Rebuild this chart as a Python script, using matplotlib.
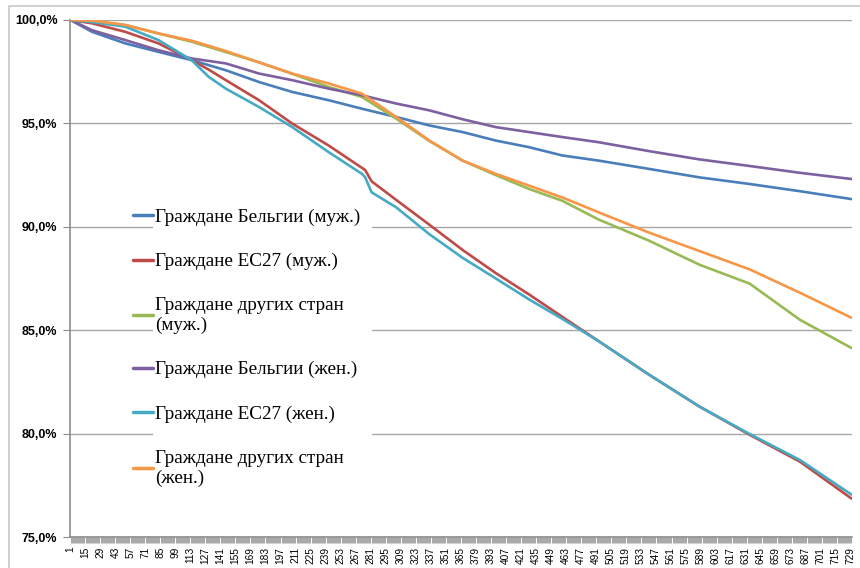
import numpy as np
import matplotlib
matplotlib.use("Agg")
import matplotlib.pyplot as plt
from matplotlib.patches import Rectangle

# days on the category axis where values were read
days = [1, 21, 52, 83, 114, 146, 177, 208, 242, 273, 305, 336,
        367, 398, 429, 460, 494, 541, 588, 635, 682, 730]

be_m = [100.0, 99.43, 98.87, 98.46, 98.06, 97.57, 97.0, 96.52, 96.12, 95.71, 95.31, 94.9,
        94.58, 94.17, 93.85, 93.45, 93.2, 92.8, 92.39, 92.07, 91.72, 91.34]
be_f = [100.0, 99.51, 99.03, 98.54, 98.14, 97.9, 97.41, 97.09, 96.68, 96.36, 95.96, 95.63,
        95.2, 94.82, 94.58, 94.34, 94.09, 93.66, 93.26, 92.94, 92.61, 92.31]
ot_m = [100.0, 99.95, 99.76, 99.35, 98.95, 98.45, 97.95, 97.4, 96.76, 96.28, 95.23, 94.15,
        93.2, 92.5, 91.83, 91.26, 90.35, 89.33, 88.17, 87.25, 85.5, 84.14]
ot_f = [100.0, 99.97, 99.76, 99.35, 99.0, 98.5, 97.95, 97.41, 96.93, 96.44, 95.31, 94.17,
        93.2, 92.56, 91.99, 91.42, 90.7, 89.72, 88.83, 87.94, 86.81, 85.6]

# EU27 series have a small step near day 278
days_eu = [1, 21, 52, 83, 114, 130, 146, 177, 208, 242, 273, 276, 282, 305, 336,
           367, 398, 429, 460, 494, 541, 588, 635, 682, 730]
eu_m = [100.0, 99.84, 99.43, 98.87, 98.06, 97.6, 97.09, 96.12, 94.99, 93.93, 92.85, 92.75, 92.2,
        91.3, 90.1, 88.88, 87.76, 86.73, 85.65, 84.47, 82.85, 81.31, 79.94, 78.64, 76.86]
eu_f = [100.0, 99.9, 99.68, 99.03, 98.06, 97.25, 96.68, 95.79, 94.82, 93.61, 92.56, 92.4, 91.67,
        90.94, 89.64, 88.5, 87.5, 86.49, 85.55, 84.47, 82.85, 81.31, 79.98, 78.72, 77.05]

labels = ["Граждане Бельгии (муж.)", "Граждане ЕС27 (муж.)",
          "Граждане других стран\n(муж.)", "Граждане Бельгии (жен.)",
          "Граждане ЕС27 (жен.)", "Граждане других стран\n(жен.)"]
colors = ["#4A7EBB", "#BE4B48", "#98B954", "#7D60A0", "#46AAC5", "#F79646"]

n_days = 730
xtick_days = list(range(1, n_days, 14))
ytick_vals = [75, 80, 85, 90, 95, 100]
ytick_text = ["75,0%", "80,0%", "85,0%", "90,0%", "95,0%", "100,0%"]

fig = plt.figure(figsize=(8.6, 5.68), dpi=100)
ax = fig.add_axes([70 / 860, 1 - 537 / 568, 782 / 860, 517 / 568])

series = [(days, be_m), (days_eu, eu_m), (days, ot_m),
          (days, be_f), (days_eu, eu_f), (days, ot_f)]
for (x, y), lab, c in zip(series, labels, colors):
    ax.plot(x, y, color=c, lw=1.9, label=lab, zorder=3, solid_capstyle="round")

ax.set_xlim(0.5, n_days + 0.5)
ax.set_ylim(75, 100)
ax.set_yticks(ytick_vals)
ax.set_yticklabels(ytick_text, fontfamily="Liberation Sans", fontweight="bold", fontsize=9)
ax.set_xticks(xtick_days)
ax.set_xticklabels([str(d) for d in xtick_days], rotation=90,
                   fontfamily="Liberation Sans", fontsize=7.3)
ax.set_xticks(np.arange(1, n_days + 1), minor=True)

ax.grid(axis="y", color="#A6A6A6", lw=1.0, zorder=1)
for s in ["top", "right"]:
    ax.spines[s].set_visible(False)
for s in ["left", "bottom"]:
    ax.spines[s].set_color("#8C8C8C")
    ax.spines[s].set_linewidth(1.2)
ax.tick_params(axis="y", length=5, color="#8C8C8C", pad=4)
ax.tick_params(axis="x", which="both", length=4, width=0.6, color="#999999", pad=3)

# white area behind the legend
ax.add_patch(Rectangle(((153 - 70) / 782, (537 - 500) / 517), (372 - 153) / 782, 303 / 517,
                       transform=ax.transAxes, facecolor="white", edgecolor="none", zorder=2))

leg = ax.legend(loc="upper left", bbox_to_anchor=((133 - 70) / 782 - 0.012, (537 - 199) / 517),
                frameon=False, handlelength=1.05, handletextpad=0.1, labelspacing=1.4,
                borderpad=0, prop={"family": "Liberation Serif", "size": 13.8})
for line in leg.get_lines():
    line.set_linewidth(2.5)

# outer chart border
fig.add_artist(Rectangle((9 / 860, -0.1), 1.2, 1.1 - 6.5 / 568, transform=fig.transFigure,
                         facecolor="none", edgecolor="#C8C8C8", lw=1.2))

fig.savefig("out.png", dpi=100)
